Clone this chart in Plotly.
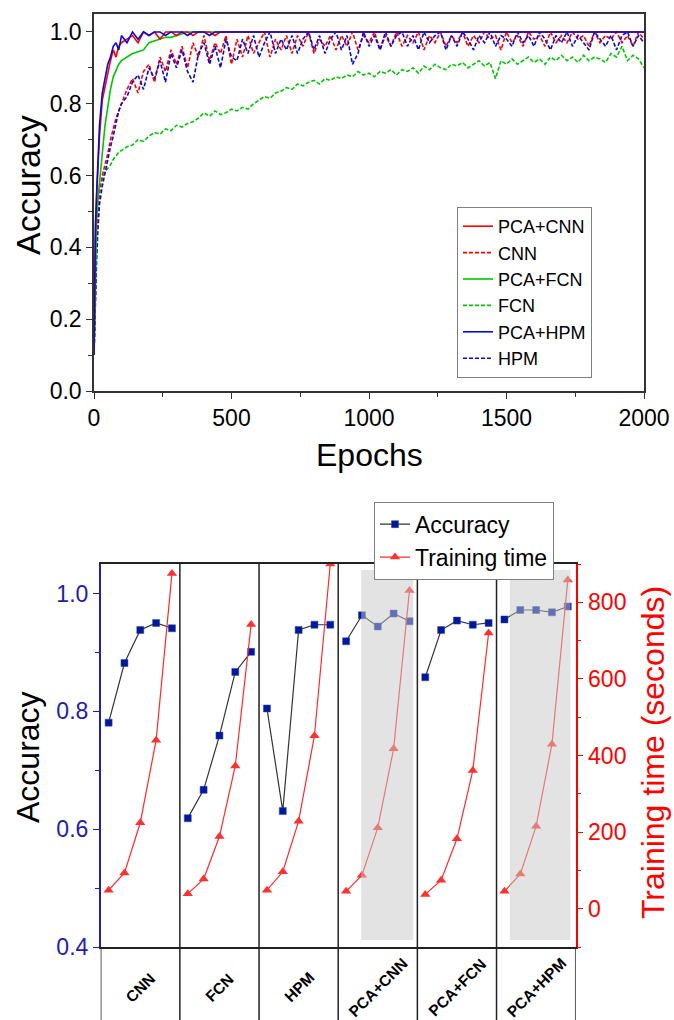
import plotly.graph_objects as go

# ---------------- Top chart data (accuracy vs epochs) ----------------
epochs = [0, 5, 10, 15, 20, 30, 40, 50, 60, 70, 80, 90, 100] + list(range(120, 2001, 20))

acc_pca_cnn = ([0.10, 0.42, 0.55, 0.63, 0.71, 0.81, 0.85, 0.88, 0.92, 0.95, 0.93, 0.96, 0.97]
               + [0.98, 0.99, 0.97, 1.0, 0.99, 1.0, 0.98, 1.0, 1.0, 0.99]
               + [1.0, 1.0, 0.99, 1.0, 1.0, 1.0, 0.99, 1.0, 1.0, 1.0]
               + [1.0] * 75)
acc_pca_hpm = ([0.10, 0.46, 0.56, 0.66, 0.74, 0.83, 0.87, 0.91, 0.93, 0.96, 0.97, 0.95, 0.99]
               + [0.97, 1.0, 0.98, 1.0, 0.99, 1.0, 1.0, 0.99, 1.0, 1.0]
               + [1.0, 0.99, 1.0, 1.0, 1.0, 0.99, 1.0, 1.0, 1.0, 1.0]
               + [1.0] * 75)
acc_pca_fcn = ([0.10, 0.35, 0.48, 0.54, 0.58, 0.64, 0.74, 0.79, 0.84, 0.875, 0.895, 0.91, 0.92]
               + [0.93, 0.94, 0.945, 0.95, 0.97, 0.975, 0.98, 0.985, 0.985, 0.99]
               + [0.995, 1.0, 1.0, 1.0, 1.0, 1.0, 1.0, 1.0, 1.0, 1.0]
               + [1.0] * 75)
acc_cnn = ([0.10, 0.28, 0.42, 0.50, 0.55, 0.60, 0.63, 0.66, 0.70, 0.73, 0.76, 0.78, 0.80]
           + [0.84, 0.87, 0.83, 0.89, 0.91, 0.86, 0.93, 0.89, 0.95, 0.91]
           + [0.96, 0.90, 0.97, 0.93, 0.99, 0.92, 0.97, 0.94, 0.99, 0.91]
           + [0.98, 0.93, 0.99, 0.94, 0.97, 1.0, 0.93, 0.98, 0.95, 0.99]
           + [0.94, 0.99, 0.96, 1.0, 0.94, 0.98, 0.96, 0.99, 0.95, 0.99]
           + [0.96, 1.0, 0.95, 0.99, 0.97, 1.0, 0.95, 0.99, 0.96, 1.0]
           + [0.96, 0.99, 0.97, 1.0, 0.95, 0.99, 0.97, 1.0, 0.96, 0.99]
           + [0.97, 1.0, 0.96, 0.99, 0.97, 1.0, 0.98, 0.99, 0.95, 1.0]
           + [0.97, 0.99, 0.96, 1.0, 0.98, 0.99, 0.96, 1.0, 0.97, 0.99]
           + [0.97, 1.0, 0.98, 0.99, 0.96, 1.0, 0.97, 0.99, 0.98, 1.0]
           + [0.97, 0.99, 0.96, 1.0, 0.98])
acc_hpm = ([0.10, 0.25, 0.38, 0.46, 0.52, 0.57, 0.61, 0.65, 0.68, 0.71, 0.75, 0.78, 0.80]
           + [0.82, 0.86, 0.88, 0.84, 0.90, 0.87, 0.92, 0.86, 0.94, 0.90]
           + [0.95, 0.89, 0.86, 0.94, 0.97, 0.91, 0.96, 0.90, 0.98, 0.93]
           + [0.92, 0.98, 0.94, 0.99, 0.93, 0.97, 1.0, 0.94, 0.98, 0.95]
           + [0.99, 0.94, 0.98, 1.0, 0.95, 0.99, 0.94, 0.98, 1.0, 0.95]
           + [0.99, 0.91, 0.94, 1.0, 0.96, 0.99, 0.95, 1.0, 0.96, 0.99]
           + [1.0, 0.96, 0.99, 0.95, 1.0, 0.97, 0.99, 1.0, 0.95, 0.99]
           + [0.96, 1.0, 0.98, 0.95, 0.99, 0.97, 1.0, 0.96, 0.99, 0.98]
           + [0.96, 1.0, 0.97, 0.99, 0.96, 1.0, 0.98, 0.95, 0.99, 0.97]
           + [1.0, 0.96, 0.99, 0.97, 0.95, 1.0, 0.98, 0.96, 0.99, 0.95]
           + [0.99, 1.0, 0.96, 0.99, 0.97])
acc_fcn = ([0.10, 0.30, 0.45, 0.52, 0.57, 0.59, 0.61, 0.62, 0.63, 0.645, 0.655, 0.665, 0.67]
           + [0.68, 0.685, 0.70, 0.695, 0.71, 0.72, 0.715, 0.73, 0.725, 0.74]
           + [0.735, 0.745, 0.75, 0.76, 0.775, 0.765, 0.78, 0.77, 0.775, 0.785]
           + [0.78, 0.79, 0.785, 0.80, 0.81, 0.82, 0.815, 0.83, 0.835, 0.845]
           + [0.84, 0.855, 0.85, 0.86, 0.865, 0.855, 0.87, 0.865, 0.875, 0.87]
           + [0.88, 0.875, 0.89, 0.88, 0.885, 0.875, 0.89, 0.885, 0.895, 0.88]
           + [0.895, 0.89, 0.90, 0.885, 0.905, 0.895, 0.91, 0.90, 0.895, 0.91]
           + [0.905, 0.915, 0.90, 0.91, 0.92, 0.905, 0.915, 0.87, 0.92, 0.91]
           + [0.925, 0.91, 0.92, 0.93, 0.915, 0.925, 0.91, 0.93, 0.92, 0.935]
           + [0.92, 0.93, 0.915, 0.935, 0.92, 0.93, 0.925, 0.915, 0.94, 0.93]
           + [0.96, 0.92, 0.935, 0.925, 0.90])

# ---------------- Bottom chart data ----------------
categories = ["CNN", "FCN", "HPM", "PCA+CNN", "PCA+FCN", "PCA+HPM"]
acc_points = {
    "CNN": [0.781, 0.882, 0.938, 0.950, 0.941],
    "FCN": [0.619, 0.667, 0.759, 0.867, 0.901],
    "HPM": [0.805, 0.631, 0.938, 0.947, 0.947],
    "PCA+CNN": [0.919, 0.963, 0.944, 0.966, 0.953],
    "PCA+FCN": [0.858, 0.938, 0.954, 0.947, 0.950],
    "PCA+HPM": [0.956, 0.972, 0.972, 0.968, 0.978],
}
time_points = {
    "CNN": [49, 94, 225, 440, 875],
    "FCN": [40, 78, 189, 373, 742],
    "HPM": [49, 97, 229, 452, 900],
    "PCA+CNN": [46, 88, 212, 418, 831],
    "PCA+FCN": [38, 75, 183, 361, 720],
    "PCA+HPM": [46, 91, 216, 430, 858],
}
shaded = ["PCA+CNN", "PCA+HPM"]

FONT = "Liberation Sans, Arial, sans-serif"
RED, GREEN, BLUE = "#ff0000", "#00c800", "#0a0ad8"
W, H = 674, 1020


def px_x(p):
    return p / W


def px_y(p):
    return 1 - p / H


fig = go.Figure()

top_series = [
    ("FCN", acc_fcn, GREEN, "4px,2px", 4),
    ("CNN", acc_cnn, RED, "4px,2px", 2),
    ("HPM", acc_hpm, BLUE, "4px,2px", 6),
    ("PCA+FCN", acc_pca_fcn, GREEN, "solid", 3),
    ("PCA+CNN", acc_pca_cnn, RED, "solid", 1),
    ("PCA+HPM", acc_pca_hpm, BLUE, "solid", 5),
]
for name, vals, col, dash, rank in top_series:
    fig.add_trace(go.Scatter(
        x=epochs, y=vals, name=name, mode="lines",
        line=dict(color=col, width=1.6, dash=dash),
        xaxis="x", yaxis="y", legend="legend", legendrank=rank,
    ))

# bottom chart
n_slots = 5
for ci, cat in enumerate(categories):
    xs = [ci * n_slots + j + 0.5 for j in range(n_slots)]
    fig.add_trace(go.Scatter(
        x=xs, y=time_points[cat], name="Training time", mode="lines+markers",
        line=dict(color="#ff2a2a", width=1.2),
        marker=dict(symbol="triangle-up", size=9, color="#ff3030"),
        xaxis="x2", yaxis="y3", legend="legend2", legendgroup="time",
        showlegend=(ci == 0), legendrank=2,
    ))
    fig.add_trace(go.Scatter(
        x=xs, y=acc_points[cat], name="Accuracy", mode="lines+markers",
        line=dict(color="#333333", width=1.2),
        marker=dict(symbol="square", size=7, color="#00189c",
                    line=dict(color="#3040b0", width=0.5)),
        xaxis="x2", yaxis="y2", legend="legend2", legendgroup="acc",
        showlegend=(ci == 0), legendrank=1,
    ))

shapes = []
# panel dividers (extend down into label area)
for k in range(len(categories) + 1):
    x = k * n_slots
    if k in (0, len(categories)):
        y1 = px_y(947)
    else:
        y1 = px_y(564)
    shapes.append(dict(type="line", xref="x2", yref="paper", x0=x, x1=x, y0=0, y1=y1,
                       line=dict(color="#222222", width=1.5), layer="above"))
# shaded regions
shade_pos = {"PCA+CNN": (1.45, 4.74), "PCA+HPM": (0.84, 4.67)}
for cat in shaded:
    ci = categories.index(cat)
    a, b = shade_pos[cat]
    shapes.append(dict(type="rect", xref="x2", yref="y2",
                       x0=ci * n_slots + a, x1=ci * n_slots + b, y0=0.4124, y1=1.0398,
                       fillcolor="rgba(200,200,200,0.5)", line=dict(width=0), layer="above"))

annotations = []
for ci, cat in enumerate(categories):
    annotations.append(dict(x=ci * n_slots + 2.5, xref="x2", y=px_y(987), yref="paper",
                            text=f"<b>{cat}</b>", showarrow=False, textangle=-45,
                            font=dict(family=FONT, size=15.5, color="black"),
                            xanchor="center", yanchor="middle"))
# axis titles
annotations += [
    dict(x=px_x(369), y=px_y(455), xref="paper", yref="paper", text="Epochs",
         xanchor="center", yanchor="middle",
         showarrow=False, font=dict(family=FONT, size=32, color="black")),
    dict(x=px_x(28), y=px_y(185), xref="paper", yref="paper", text="Accuracy",
         xanchor="center", yanchor="middle",
         showarrow=False, textangle=-90, font=dict(family=FONT, size=34, color="black")),
    dict(x=px_x(28), y=px_y(757), xref="paper", yref="paper", text="Accuracy",
         xanchor="center", yanchor="middle",
         showarrow=False, textangle=-90, font=dict(family=FONT, size=32, color="black")),
    dict(x=px_x(653), y=px_y(753), xref="paper", yref="paper", text="Training time (seconds)",
         xanchor="center", yanchor="middle",
         showarrow=False, textangle=-90, font=dict(family=FONT, size=32, color=RED)),
]


def axis_common(**kw):
    d = dict(showgrid=False, zeroline=False, automargin=False)
    d.update(kw)
    return d


fig.update_layout(
    template="none",
    width=W, height=H, autosize=False,
    margin=dict(l=0, r=0, t=0, b=0, pad=0),
    paper_bgcolor="white", plot_bgcolor="white",
    font=dict(family=FONT, color="black"),
    xaxis=axis_common(domain=[px_x(94), px_x(644)], range=[0, 2000], dtick=500,
                      showline=True, mirror=True, linecolor="#333333", linewidth=1.5,
                      ticks="outside", ticklen=6, tickwidth=1.2, tickcolor="#333333",
                      minor=dict(dtick=250, ticks="outside", ticklen=4, tickcolor="#333333"),
                      anchor="y", tickfont=dict(family=FONT, size=23, color="black")),
    yaxis=axis_common(domain=[px_y(391), px_y(14)], range=[0, 1.05], dtick=0.2, tickformat=".1f",
                      showline=True, mirror=True, linecolor="#333333", linewidth=1.5,
                      ticks="outside", ticklen=6, tickwidth=1.2, tickcolor="#333333",
                      minor=dict(dtick=0.1, ticks="outside", ticklen=4, tickcolor="#333333"),
                      anchor="x", tickfont=dict(family=FONT, size=23, color="black")),
    xaxis2=axis_common(domain=[px_x(100.7), px_x(575.7)], range=[0, 30],
                       showline=True, mirror=True, linecolor="#222222", linewidth=1.5,
                       ticks="", showticklabels=False, anchor="y2"),
    yaxis2=axis_common(domain=[px_y(947.3), px_y(564)], range=[0.4, 1.05], dtick=0.2, tickformat=".1f",
                       showline=True, linecolor="#2020b0", linewidth=1.5,
                       ticks="outside", ticklen=6, tickwidth=1.2, tickcolor="#2020b0",
                       minor=dict(dtick=0.1, ticks="outside", ticklen=4, tickcolor="#2020b0"),
                       anchor="x2", tickfont=dict(family=FONT, size=23, color="#2020b0")),
    yaxis3=axis_common(domain=[px_y(947.3), px_y(564)], range=[-100, 900], dtick=200,
                       overlaying="y2", side="right",
                       showline=True, linecolor=RED, linewidth=1.5,
                       ticks="outside", ticklen=6, tickwidth=1.2, tickcolor=RED,
                       minor=dict(dtick=100, ticks="outside", ticklen=4, tickcolor=RED),
                       anchor="x2", tickfont=dict(family=FONT, size=23, color=RED)),
    legend=dict(x=px_x(457), y=px_y(207), xanchor="left", yanchor="top",
                bordercolor="#808080", borderwidth=1, bgcolor="white",
                font=dict(family=FONT, size=18, color="black"),
                tracegroupgap=0),
    legend2=dict(x=px_x(374), y=px_y(501.7), xanchor="left", yanchor="top",
                 bordercolor="#808080", borderwidth=1, bgcolor="white",
                 font=dict(family=FONT, size=23, color="black"),
                 tracegroupgap=0),
    shapes=shapes,
    annotations=annotations,
    showlegend=True,
)

# remove the browser's default 8px body margin so the figure sits at the page origin
fig.write_html("out.html",
               config={"displayModeBar": False},
               post_script="document.body.style.margin='0';document.body.style.overflow='hidden';")
